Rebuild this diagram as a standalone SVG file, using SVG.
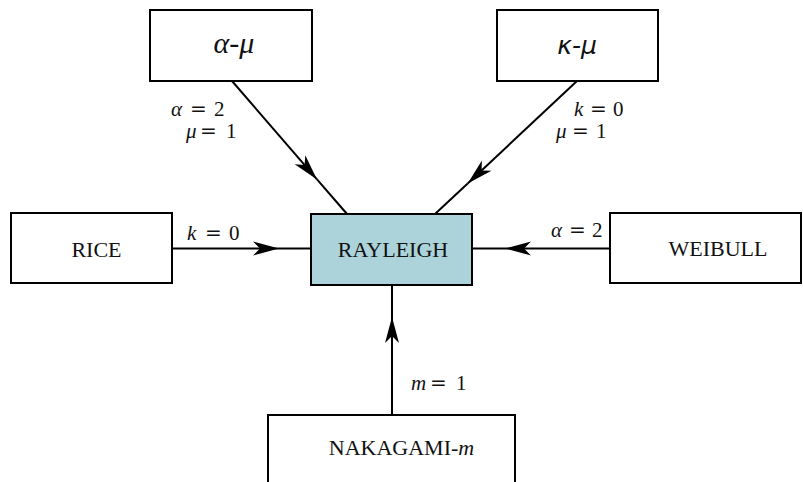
<svg xmlns="http://www.w3.org/2000/svg" width="803" height="482" viewBox="0 0 803 482">
<style>
.box{fill:#fff;stroke:#000;stroke-width:2}
.hub{fill:#acd3da;stroke:#000;stroke-width:2}
.t{font-family:"Liberation Serif","Times New Roman",serif;font-size:22px;fill:#111;text-anchor:middle}
.lab{font-family:"Liberation Serif","Times New Roman",serif;font-size:21px;fill:#111}
.i{font-style:italic}
.eq{font-family:"DejaVu Serif",serif;font-size:20px}
.c{stroke:#000;stroke-width:2;fill:none}
</style>
<defs>
<marker id="arr" markerUnits="userSpaceOnUse" markerWidth="30" markerHeight="16" viewBox="-28 -8 30 16" refX="0" refY="0" orient="auto">
<path d="M0,0 L-26,-7 L-19,0 L-26,7 Z" fill="#000"/>
</marker>
</defs>
<g id="connectors">
<path class="c" d="M232,81 L317,179.4" marker-end="url(#arr)"/>
<path class="c" d="M317,179.4 L347,214"/>
<path class="c" d="M577,81 L467.7,183.4" marker-end="url(#arr)"/>
<path class="c" d="M467.7,183.4 L435,214"/>
<path class="c" d="M172,248.5 L279,248.5" marker-end="url(#arr)"/>
<path class="c" d="M279,248.5 L311,248.5"/>
<path class="c" d="M610,248.5 L505,248.5" marker-end="url(#arr)"/>
<path class="c" d="M505,248.5 L472,248.5"/>
<path class="c" d="M392,415 L392,317" marker-end="url(#arr)"/>
<path class="c" d="M392,317 L392,285"/>
<text class="lab" y="116"><tspan class="i" x="171">α</tspan><tspan class="eq" x="190">=</tspan><tspan x="214">2</tspan></text>
<text class="lab" y="138"><tspan class="i" x="186">μ</tspan><tspan class="eq" x="200">=</tspan><tspan x="226">1</tspan></text>
<text class="lab" y="116"><tspan class="i" x="574">k</tspan><tspan class="eq" x="590">=</tspan><tspan x="613">0</tspan></text>
<text class="lab" y="138"><tspan class="i" x="556">μ</tspan><tspan class="eq" x="572">=</tspan><tspan x="596">1</tspan></text>
<text class="lab" y="240"><tspan class="i" x="187">k</tspan><tspan class="eq" x="205">=</tspan><tspan x="229">0</tspan></text>
<text class="lab" y="237"><tspan class="i" x="551">α</tspan><tspan class="eq" x="569">=</tspan><tspan x="592">2</tspan></text>
<text class="lab" y="390"><tspan class="i" x="411">m</tspan><tspan class="eq" x="430">=</tspan><tspan x="456">1</tspan></text>
</g>
<g id="alpha-mu">
<rect class="box" x="150" y="10" width="162" height="71"/>
<text class="t i" x="234" y="53" style="font-size:30px">α-μ</text>
</g>
<g id="kappa-mu">
<rect class="box" x="497" y="10" width="161" height="71"/>
<text class="t i" x="577" y="54" style="font-family:'DejaVu Sans','Liberation Sans',sans-serif;font-size:25px">κ-μ</text>
</g>
<g id="rice">
<rect class="box" x="11" y="213" width="161" height="70"/>
<text class="t" x="96.5" y="257">RICE</text>
</g>
<g id="rayleigh">
<rect class="hub" x="311" y="214" width="161" height="71"/>
<text class="t" x="393" y="257">RAYLEIGH</text>
</g>
<g id="weibull">
<rect class="box" x="610" y="213" width="191" height="70"/>
<text class="t" x="718" y="256">WEIBULL</text>
</g>
<g id="nakagami">
<rect class="box" x="268" y="415" width="247" height="80"/>
<text class="t" x="401.5" y="455">NAKAGAMI-<tspan class="i">m</tspan></text>
</g>
</svg>
